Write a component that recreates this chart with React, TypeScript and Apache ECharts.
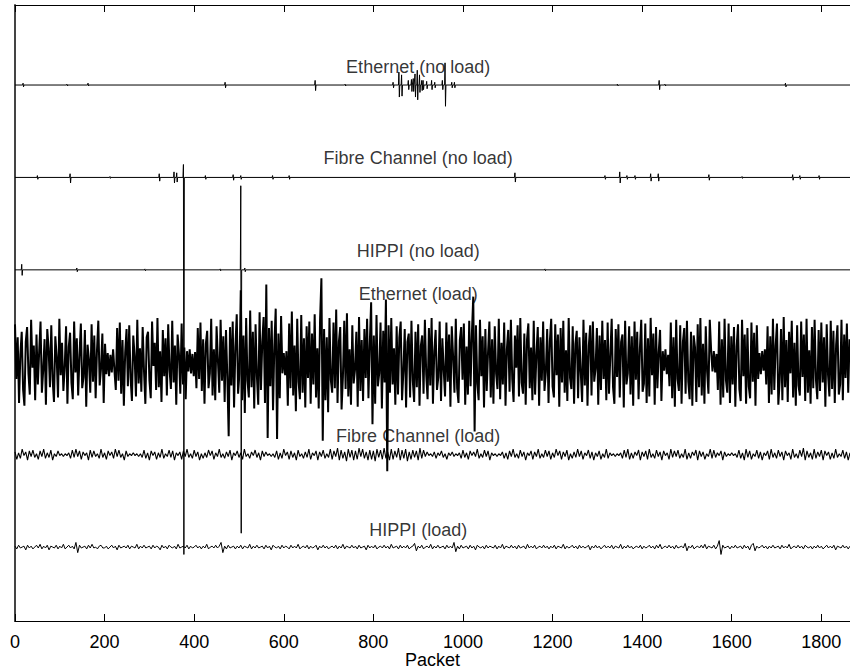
import React, { useEffect, useRef } from "react";
import * as echarts from "echarts";

// x axis
const packetMax = 1864;
const tickValues = [0, 200, 400, 600, 800, 1000, 1200, 1400, 1600, 1800];

// trace names and vertical offsets (data units), top to bottom
const traceNames = [
  "Ethernet (no load)",
  "Fibre Channel (no load)",
  "HIPPI (no load)",
  "Ethernet (load)",
  "Fibre Channel (load)",
  "HIPPI (load)",
];
const traceOffsets = [6, 5, 4, 3, 2, 1];
const labelPacket = 900;
const labelLevels = [6.19, 5.21, 4.205, 3.735, 2.205, 1.19];

// no-load traces: isolated spikes [packet, up, down] in hundredths of a unit
const ethNoLoadSpikes = [
  [18, 2, -2], [116, 1, -1], [163, 2, -1], [469, 3, -3], [670, 5, -6], [737, 1, -1],
  [844, 3, -3], [857, 14, -13], [863, 11, -12], [878, 5, -5], [885, 6, -7], [889, 7, -7],
  [893, 12, -13], [898, 16, -16], [903, 11, -8], [908, 5, -6], [911, 5, -5], [919, 4, -4],
  [930, 5, -5], [937, 3, -3], [954, 5, -5], [960, 24, -23], [975, 3, -3], [981, 3, -3],
  [1345, 1, -1], [1438, 5, -5], [1451, 1, -1], [1720, 2, -2],
];
const fcNoLoadSpikes = [
  [50, 2, -2], [123, 4, -6], [212, 1, -1], [322, 4, -4], [355, 6, -6], [361, 5, -5],
  [376, 14, -408], [425, 2, -2], [487, 3, -3], [504, 2, -2], [575, 2, -2], [612, 2, -2],
  [1116, 5, -5], [1317, 2, -2], [1350, 6, -6], [1366, 2, -2], [1384, 2, -2], [1419, 4, -4],
  [1436, 4, -4], [1549, 3, -3], [1623, 1, -1], [1736, 3, -3], [1752, 2, -2], [1795, 2, -2],
];
const hippiNoLoadSpikes = [
  [15, 6, -6], [138, 2, -2], [290, 1, -1], [458, 1, -1], [504, 91, -285], [513, 2, -2],
  [1183, 1, -1],
];

// loaded traces: values in hundredths of a unit
const ethLoadStep = 3;
const ethLoad = [
  41,-18,27,-44,9,33,-29,-47,22,38,-12,-35,46,-6,18,-41,30,-24,12,44,
  -33,-8,25,-46,36,15,-27,40,-19,-43,28,6,-38,47,-14,21,-31,-5,39,-45,
  17,32,-22,-40,44,-11,26,-36,8,42,-28,-16,35,-48,19,3,-33,41,-21,29,
  -39,13,45,-25,-7,31,-44,20,-13,10,-15,8,-11,14,-9,-30,37,-20,43,-34,
  24,-47,11,36,-26,40,-17,-42,29,7,-37,46,-23,15,-32,38,-10,-45,27,33,
  -19,-39,44,-4,21,-30,48,-27,12,-43,35,-15,26,-36,41,-8,-29,45,-22,18,
  -46,30,9,-34,42,-24,16,-40,12,-10,14,-12,9,-15,11,-28,37,-18,43,-31,
  25,-45,20,34,-28,-12,47,-36,14,-41,39,2,-33,46,-20,28,-43,35,-16,-80,
  38,-25,44,-49,17,52,-34,-12,78,-41,29,-55,48,-20,-38,56,-27,33,-50,41,
  -15,-46,54,-30,22,49,-44,84,-82,37,-26,45,-52,19,58,-83,31,-39,50,-12,
  10,-14,12,-47,42,-28,55,-36,18,-53,47,-21,-40,51,-33,26,-49,39,-17,44,
  -45,31,-24,52,-38,15,-50,46,91,-85,36,-41,27,-54,48,-19,-33,43,-28,57,
  -44,22,38,-51,-16,45,-29,53,-37,14,-46,40,-23,-8,33,-48,49,-31,24,-42,
  36,-17,47,-39,20,65,-67,29,-45,51,-26,-12,43,-50,34,-22,68,-118,40,-33,
  48,-24,15,-46,39,-35,27,44,-41,-10,36,-49,22,31,-38,45,-20,-43,33,-27,
  41,-47,18,29,-34,46,-13,-40,37,-25,48,-45,12,35,-30,-16,44,-42,26,-8,
  -37,43,-21,30,-48,39,6,-33,47,-28,-44,24,38,-19,42,-46,17,-35,45,-26,
  32,71,-75,40,-23,-41,46,-15,28,-49,36,-31,11,44,-38,25,-45,39,-12,-29,
  47,-40,21,-24,43,-47,14,35,-32,46,-18,-43,29,-6,40,-37,48,-22,-34,31,
  -46,25,42,-28,16,-41,45,-35,9,38,-47,27,-20,44,-31,-11,36,-44,23,47,
  -26,-38,41,-14,30,-48,37,-22,45,-33,13,-42,48,-17,-29,39,-45,20,34,-39,
  27,-11,-43,46,-25,32,-47,18,40,-36,44,-21,-7,37,-46,29,-30,45,-18,24,
  -41,43,-34,8,47,-27,-45,36,-16,41,-38,22,30,-49,45,-24,-12,39,-35,28,
  -47,44,-19,33,-40,15,46,-32,-23,42,-44,26,-37,48,-14,31,-46,38,-28,11,
  35,-42,12,-9,14,-13,8,-26,43,-39,27,-48,46,-18,-31,40,-45,22,37,-34,
  45,-21,-40,33,-47,29,16,-43,41,-27,48,-36,20,-45,39,-10,-34,46,13,-10,
  12,-11,9,-30,44,-46,25,-38,47,-19,-33,42,-44,28,-24,38,-48,17,41,-29,
  -42,46,-15,30,-45,37,-26,-39,43,-21,32,-47,40,-18,10,-13,12,-9,14,-24,
  39,-44,28,-35,47,-30,18,42,-46,-20,36,-41,49,-27,24,-43,33,-12,45,-38,
  21,-47,40,-25,-36,44,-16,30,-42,47,-33,13,-45,38,-28,46,-19,-40,35,-31,
  43,-22,27,-48,41,-14,-37,45,-29,34,-44,19,40,-35,-24,46,-41,30,-17,42,
  -33,25,
];

const smallStep = 4;
const fcLoad = [
  3,-5,2,-4,6,-1,3,-6,4,-2,5,-3,1,-5,4,-2,6,-4,2,-3,5,-6,1,-2,4,
  -1,1,-2,1,-1,2,-4,5,-3,6,-2,4,-5,3,-1,2,-6,5,-3,4,-2,1,-4,6,-3,
  2,-5,4,-1,3,-4,6,-2,5,-3,1,-6,4,-2,1,-1,2,-1,1,-2,1,-3,5,-4,2,
  -6,4,-1,3,-5,2,-3,6,-4,1,-2,5,-3,4,-6,2,-1,3,-5,4,-2,6,-3,1,-4,
  5,-2,3,-6,1,-4,2,-3,5,-1,4,-5,2,-2,6,-3,1,-4,3,-2,5,-6,2,-1,4,
  -3,2,-5,6,-2,1,-4,3,-1,5,-3,2,-6,4,-2,3,-1,1,-2,1,-3,4,-5,2,-4,
  6,-1,3,-5,4,-3,2,-6,5,-2,1,-4,3,-3,6,-5,2,-1,4,-6,3,-2,5,-4,1,
  -3,6,-5,4,-2,7,-6,5,-4,3,-7,6,-3,5,-6,4,-5,7,-2,6,-4,3,-6,5,-5,
  4,-7,6,-3,5,-5,7,-4,3,-6,6,-5,4,-3,7,-6,5,-4,6,-7,3,-5,5,-3,4,
  -6,7,-4,5,-2,3,-1,1,-2,3,-4,2,-1,4,-3,1,-5,2,-1,3,-2,1,-1,2,-4,
  5,-3,2,-5,4,-1,3,-2,6,-4,1,-3,5,-2,4,-6,2,-1,1,-2,1,-1,3,-4,2,
  -5,4,-2,6,-3,1,-4,5,-2,3,-6,2,-1,4,-5,3,-2,6,-4,1,-3,5,-2,4,-5,
  2,-3,6,-1,4,-5,3,-2,5,-6,1,-4,3,-3,6,-2,4,-5,2,-1,5,-4,3,-6,2,
  -2,4,-5,1,-3,6,-4,2,-1,1,-2,1,-1,2,-4,5,-3,6,-5,2,-4,3,-1,5,-6,
  3,-2,4,-5,6,-3,1,-4,5,-2,3,-6,4,-1,2,-5,6,-3,4,-2,5,-4,1,-3,6,
  -5,2,-4,3,-1,5,-6,4,-2,3,-5,1,-2,6,-4,5,-3,2,-1,4,-6,3,-2,1,-1,
  2,-1,1,-3,5,-4,2,-6,6,-3,4,-5,1,-2,5,-4,3,-6,2,-1,4,-5,6,-3,2,
  -4,5,-2,3,-6,4,-1,2,-5,6,-3,1,-4,5,-2,7,-6,4,-3,2,-5,6,-4,3,-2,
  5,-6,4,-1,3,-5,2,-4,6,-3,1,-2,5,-4,3,-6,2,
];
const hippiLoad = [
  1,-2,2,-1,0,1,-3,2,-1,1,-2,0,2,-1,3,-2,1,-1,2,-3,1,0,-1,2,-2,
  1,-1,3,-2,0,2,-1,1,-2,5,-6,2,-1,0,1,-2,2,-1,3,-1,0,-2,1,2,-1,
  -1,1,-2,0,2,-1,1,-3,2,-1,0,1,-1,2,-2,1,0,-1,3,-2,1,-1,2,-1,0,
  1,-2,2,-1,1,0,-3,2,-1,1,-2,2,0,-1,1,-2,3,-1,0,1,-1,2,-2,1,-1,
  0,2,-1,1,-2,1,-1,3,-2,0,1,-1,2,-1,1,5,-6,1,-2,2,-1,0,1,-2,1,
  -1,2,-2,1,0,-1,3,-2,1,-1,2,-1,0,1,-2,2,-1,1,-3,2,0,-1,1,-2,2,
  -1,1,0,-2,2,-1,1,-1,3,-2,0,1,-1,2,-2,1,-1,0,2,-3,1,-1,2,-1,1,
  -2,0,1,-1,2,-2,1,-1,3,-2,1,0,-1,2,-1,1,-2,2,-1,0,1,-3,2,-1,1,
  -1,2,-2,0,1,-1,2,-1,1,-2,3,-1,0,1,-2,2,-1,1,-1,2,-2,0,1,4,-4,
  1,-1,2,-2,0,1,-1,3,-2,1,-1,2,-1,0,1,-2,2,-1,1,-1,5,-5,1,-2,2,
  -1,0,1,-2,2,-1,1,-3,2,0,-1,1,-2,2,-1,1,0,-1,2,-2,1,-1,3,-2,1,
  0,-1,2,-1,1,-2,2,-1,0,1,-2,3,-1,1,-1,2,-2,0,1,-1,2,-1,1,-2,1,
  -1,2,-2,1,0,-1,3,-2,1,-1,0,2,-1,1,-2,2,-1,1,-1,0,2,-3,1,-1,2,
  -1,1,-2,0,2,-1,1,-1,2,-2,1,0,-1,3,-2,1,-1,2,-1,1,-2,0,1,-1,2,
  -2,1,-1,0,2,-1,1,-2,2,-1,3,-2,0,1,-1,2,-1,1,-2,2,-1,0,1,-1,4,
  -4,1,-1,2,-2,0,1,-1,2,-1,3,-2,1,0,-1,2,-2,1,7,-8,2,-1,0,1,-2,
  1,-1,2,-1,0,1,-2,2,-1,1,-3,2,4,-4,1,-1,0,2,-1,1,-2,1,-1,2,-1,
  0,1,-2,2,-1,1,-1,3,-2,0,1,-1,2,-1,1,-2,2,0,-1,1,-2,1,-1,2,-1,
  1,-2,0,2,-1,1,-1,2,-3,1,0,-1,2,-1,1,-2,1,
];

const FONT = "'Liberation Sans', Arial, Helvetica, sans-serif";

function sparsePoints(spikes: number[][], base: number) {
  const pts: number[][] = [[0, base]];
  for (const [p, u, d] of spikes) {
    pts.push([p - 1, base], [p, base + u / 100], [p + 1, base + d / 100], [p + 2, base]);
  }
  pts.push([packetMax, base]);
  return pts;
}

function densePoints(vals: number[], step: number, base: number) {
  return vals.map((v, i) => [i * step, base + v / 100]);
}

export default function App() {
  const ref = useRef<HTMLDivElement>(null);
  useEffect(() => {
    if (!ref.current) return;
    const chart = echarts.init(ref.current, null, { renderer: "svg" });
    const traces = [
      sparsePoints(ethNoLoadSpikes, traceOffsets[0]),
      sparsePoints(fcNoLoadSpikes, traceOffsets[1]),
      sparsePoints(hippiNoLoadSpikes, traceOffsets[2]),
      densePoints(ethLoad, ethLoadStep, traceOffsets[3]),
      densePoints(fcLoad, smallStep, traceOffsets[4]),
      densePoints(hippiLoad, smallStep, traceOffsets[5]),
    ];
    const widths = [1, 1, 1, 2, 1.1, 1];
    const axisCommon = {
      type: "value" as const,
      min: 0,
      max: packetMax,
      splitLine: { show: false },
      axisLine: { show: true, onZero: false, lineStyle: { color: "#000", width: 1 } },
      axisTick: { show: true, inside: true, length: 7, customValues: tickValues, lineStyle: { color: "#000" } },
    };
    chart.setOption({
      animation: false,
      backgroundColor: "#fff",
      grid: { left: 15, right: 0, top: 5, bottom: 49, containLabel: false, outerBoundsMode: "none" },
      xAxis: [
        {
          ...axisCommon,
          position: "bottom",
          axisLabel: {
            show: true,
            customValues: tickValues,
            formatter: (v: number) => String(v),
            fontSize: 18,
            fontFamily: FONT,
            color: "#000",
            margin: 12,
          },
          name: "Packet",
          nameLocation: "middle",
          nameGap: 30,
          nameMoveOverlap: false,
          nameTextStyle: { fontSize: 18, fontFamily: FONT, color: "#000" },
        },
        {
          ...axisCommon,
          position: "top",
          axisLabel: { show: false },
        },
      ],
      yAxis: {
        type: "value",
        min: 0.2,
        max: 6.866,
        splitLine: { show: false },
        axisLabel: { show: false },
        axisTick: { show: false },
        axisLine: { show: true, onZero: false, lineStyle: { color: "#444", width: 2 } },
      },
      series: [
        ...traces.map((data, i) => ({
          type: "line",
          name: traceNames[i],
          data,
          xAxisIndex: 0,
          showSymbol: false,
          symbol: "none",
          silent: true,
          lineStyle: { color: "#000", width: widths[i] },
          z: 2,
        })),
        {
          type: "scatter",
          xAxisIndex: 0,
          symbolSize: 0,
          silent: true,
          z: 5,
          data: traceNames.map((n, i) => ({ name: n, value: [labelPacket, labelLevels[i]] })),
          label: {
            show: true,
            position: "inside",
            formatter: "{b}",
            fontSize: 18,
            fontFamily: FONT,
            color: "#000",
          },
        },
      ],
    });
    return () => chart.dispose();
  }, []);
  return (
    <div
      ref={ref}
      style={{ position: "absolute", left: 0, top: 0, width: 850, height: 670 }}
    />
  );
}
